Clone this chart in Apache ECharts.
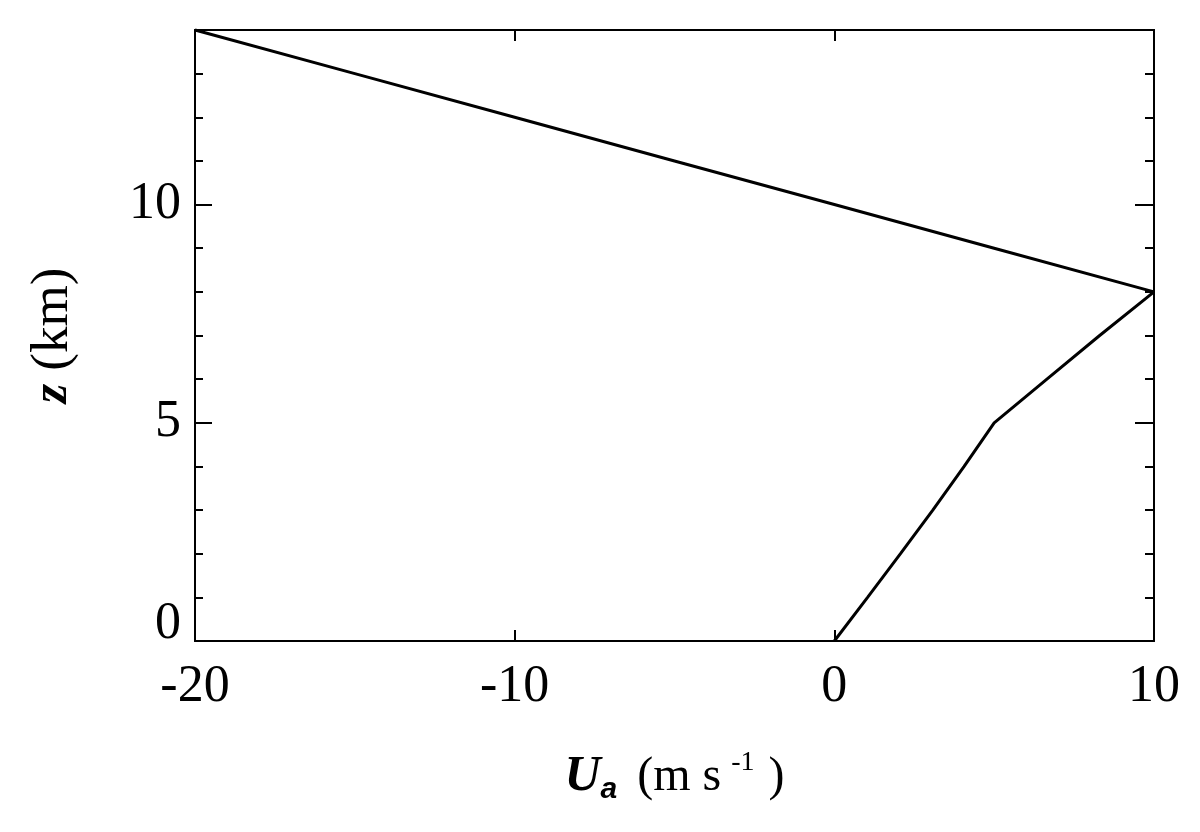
<!DOCTYPE html>
<html>
<head>
<meta charset="utf-8">
<script src="https://cdn.jsdelivr.net/npm/echarts@6/dist/echarts.min.js"></script>
<style>html,body{margin:0;padding:0;background:#fff;}#c{width:1200px;height:832px;}</style>
</head>
<body>
<div id="c"></div>
<script>
// Height z (km) and wind speed Ua (m/s)
const heights = [0, 1, 2, 3, 4, 5, 6, 7, 8, 9, 10, 11, 12, 13, 14];
const windU   = [0, 1.04, 2.07, 3.08, 4.06, 5, 6.65, 8.3, 10, 5, 0, -5, -10, -15, -20];
const xTicks = [-20, -10, 0, 10];
const yTicks = [0, 5, 10];

const FONT = 'Liberation Serif';
const chart = echarts.init(document.getElementById('c'), null, {renderer: 'canvas'});

const axLine = {show: true, onZero: false, lineStyle: {color: '#000', width: 2}};
function yAx(pos, interval, tickLen, labels, extra) {
  return Object.assign({
    type: 'value', position: pos, min: 0, max: 14, interval: interval,
    axisLine: axLine,
    axisTick: {show: true, inside: true, length: tickLen, lineStyle: {color: '#000', width: 2}},
    axisLabel: labels ? {
      show: true, fontFamily: FONT, fontSize: 52, color: '#000', margin: 14,
      showMaxLabel: false,
      rich: {low: {fontFamily: FONT, fontSize: 52, color: '#000', padding: [0, 0, 34, 0]}},
      formatter: v => (yTicks.indexOf(v) < 0 ? '' : (v === yTicks[0] ? '{low|' + v + '}' : String(v)))
    } : {show: false},
    splitLine: {show: false}
  }, extra || {});
}
function xAx(pos, labels, extra) {
  return Object.assign({
    type: 'value', position: pos, min: -20, max: 10, interval: 10,
    axisLine: axLine,
    axisTick: {show: true, inside: true, length: 11, lineStyle: {color: '#000', width: 2}},
    axisLabel: labels ? {
      show: true, fontFamily: FONT, fontSize: 52, color: '#000', margin: 20,
      formatter: v => (xTicks.indexOf(v) >= 0 ? String(v) : '')
    } : {show: false},
    splitLine: {show: false}
  }, extra || {});
}

const option = {
  backgroundColor: '#fff',
  animation: false,
  grid: {left: 195, right: 46, top: 30, bottom: 191, containLabel: false},
  xAxis: [
    xAx('bottom', true, {
      name: '{U|U}{a|a}{t|(m s}{sup|-1}{t2|)}',
      nameLocation: 'middle', nameGap: 108,
      nameTextStyle: {
        color: '#000',
        rich: {
          U: {fontFamily: FONT, fontSize: 50, fontWeight: 'bold', fontStyle: 'italic', color: '#000', lineHeight: 56, verticalAlign: 'middle'},
          a: {fontFamily: 'Liberation Sans', fontSize: 30, fontWeight: 'bold', fontStyle: 'italic', color: '#000', lineHeight: 30, verticalAlign: 'bottom', padding: [0, 20, 0, 0]},
          t: {fontFamily: FONT, fontSize: 48, color: '#000', lineHeight: 56, verticalAlign: 'middle'},
          t2: {fontFamily: FONT, fontSize: 48, color: '#000', lineHeight: 56, verticalAlign: 'middle', padding: [0, 0, 0, 14]},
          sup: {fontFamily: FONT, fontSize: 28, color: '#000', lineHeight: 28, verticalAlign: 'top', padding: [0, 0, 0, 10]}
        }
      }
    }),
    xAx('top', false)
  ],
  yAxis: [
    yAx('left', 5, 17, true, {
      name: '{z|z}{t| (km)}',
      nameLocation: 'middle', nameGap: 115,
      nameTextStyle: {
        color: '#000',
        rich: {
          z: {fontFamily: FONT, fontSize: 50, fontWeight: 'bold', fontStyle: 'italic', color: '#000'},
          t: {fontFamily: FONT, fontSize: 53, color: '#000'}
        }
      }
    }),
    yAx('left', 1, 8, false),
    yAx('right', 5, 19, false),
    yAx('right', 1, 9, false)
  ],
  series: [{
    type: 'line',
    xAxisIndex: 0, yAxisIndex: 0,
    data: windU.map((u, i) => [u, heights[i]]),
    showSymbol: false, symbol: 'none',
    clip: false,
    lineStyle: {color: '#000', width: 3},
    silent: true
  }]
};
chart.setOption(option);
</script>
</body>
</html>
